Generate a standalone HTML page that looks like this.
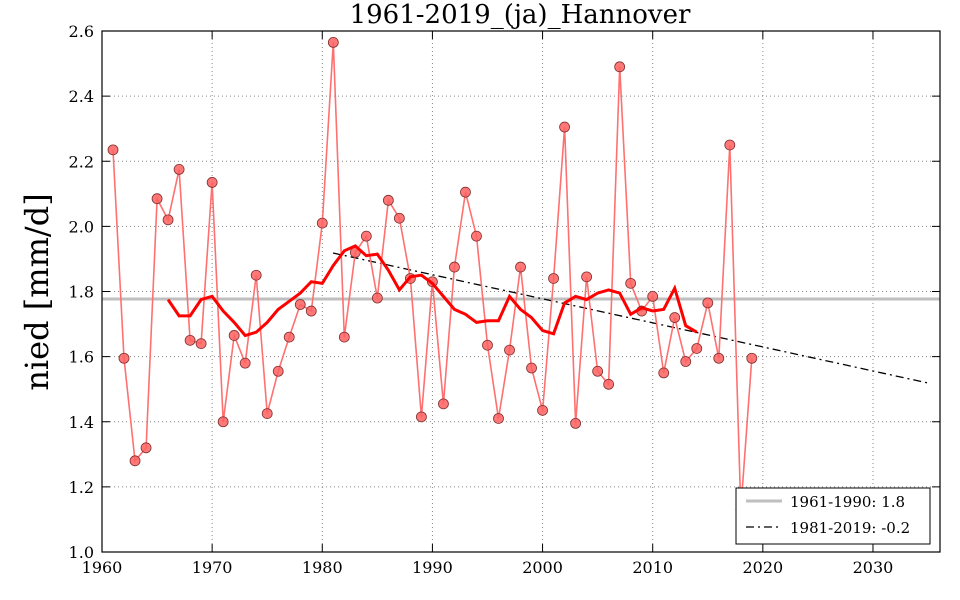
<!DOCTYPE html>
<html><head><meta charset="utf-8"><style>
html,body{margin:0;padding:0;background:#fff;}
svg{display:block;font-family:"DejaVu Serif","Liberation Serif",serif;}
</style></head><body>
<svg id="s" width="960" height="600" xmlns="http://www.w3.org/2000/svg">
<rect width="960" height="600" fill="#fff"/>
<g id="grid"></g>
<line x1="102" y1="299" x2="940" y2="299" stroke="#bfbfbf" stroke-width="3"/>
<line x1="333" y1="253" x2="928" y2="383" stroke="#000" stroke-width="1.3" stroke-dasharray="8,4,2,4"/>
<polyline id="raw" fill="none" stroke="#ff7070" stroke-width="1.6"/>
<g id="pts"></g>
<polyline id="ma" fill="none" stroke="#ff0000" stroke-width="3"/>
<rect x="102" y="31" width="838" height="521" fill="none" stroke="#000" stroke-width="1.2"/>
<g id="ticks"></g>
<text x="520" y="23" font-size="26" text-anchor="middle">1961-2019_(ja)_Hannover</text>
<text transform="translate(48,292) rotate(-90)" font-size="32" text-anchor="middle">nied [mm/d]</text>
<rect x="736" y="488" width="194" height="56" fill="#fff" stroke="#000" stroke-width="1"/>
<line x1="746" y1="501" x2="782" y2="501" stroke="#bfbfbf" stroke-width="3"/>
<text x="790" y="507" font-size="15">1961-1990: 1.8</text>
<line x1="746" y1="527" x2="782" y2="527" stroke="#000" stroke-width="1.3" stroke-dasharray="8,4,2,4"/>
<text x="790" y="533" font-size="15">1981-2019: -0.2</text>
</svg>
<script>
var X=function(y){return 102+(y-1960)*11.014;};
var Y=function(v){return 552-(v-1.0)/0.2*65.125;};
var ns="http://www.w3.org/2000/svg";
function el(t,a,p){var e=document.createElementNS(ns,t);for(var k in a)e.setAttribute(k,a[k]);p.appendChild(e);return e;}
var raw=[2.235,1.595,1.28,1.32,2.085,2.02,2.175,1.65,1.64,2.135,1.40,1.665,1.58,1.85,1.425,1.555,1.66,1.76,1.74,2.01,2.565,1.66,1.92,1.97,1.78,2.08,2.025,1.84,1.415,1.83,1.455,1.875,2.105,1.97,1.635,1.41,1.62,1.875,1.565,1.435,1.84,2.305,1.395,1.845,1.555,1.515,2.49,1.825,1.74,1.785,1.55,1.72,1.585,1.625,1.765,1.595,2.25,1.13,1.595];
var ma=[1.775,1.725,1.725,1.775,1.785,1.74,1.705,1.665,1.675,1.705,1.745,1.77,1.795,1.83,1.825,1.88,1.925,1.94,1.91,1.915,1.865,1.805,1.845,1.85,1.825,1.785,1.745,1.73,1.705,1.71,1.71,1.785,1.745,1.72,1.68,1.67,1.765,1.785,1.775,1.795,1.805,1.795,1.73,1.75,1.74,1.745,1.81,1.695,1.675];
var g=document.getElementById("grid"),t=document.getElementById("ticks"),p=document.getElementById("pts");
for(var yr=1960;yr<=2030;yr+=10){var x=X(yr);
 if(yr>1960)el("line",{x1:x,y1:31,x2:x,y2:552,stroke:"#888","stroke-dasharray":"1,3","stroke-width":1},g);
 el("line",{x1:x,y1:552,x2:x,y2:544,stroke:"#000"},t);el("line",{x1:x,y1:31,x2:x,y2:39,stroke:"#000"},t);
 var tx=el("text",{x:x,y:573,"font-size":16,"text-anchor":"middle"},t);tx.textContent=yr;}
for(var i=0;i<=8;i++){var v=1+i*0.2,y=Y(v);
 if(i>0&&i<8)el("line",{x1:102,y1:y,x2:940,y2:y,stroke:"#888","stroke-dasharray":"1,3","stroke-width":1},g);
 el("line",{x1:102,y1:y,x2:110,y2:y,stroke:"#000"},t);el("line",{x1:940,y1:y,x2:932,y2:y,stroke:"#000"},t);
 var tx=el("text",{x:94,y:y+6,"font-size":16,"text-anchor":"end"},t);tx.textContent=v.toFixed(1);}
var s="";raw.forEach(function(v,i){var x=X(1961+i),y=Y(v);s+=x.toFixed(1)+","+y.toFixed(1)+" ";
 el("circle",{cx:x,cy:y,r:5,fill:"#ff6060","fill-opacity":0.85,stroke:"#803030","stroke-width":0.8},p);});
document.getElementById("raw").setAttribute("points",s);
s="";ma.forEach(function(v,i){s+=X(1966+i).toFixed(1)+","+Y(v).toFixed(1)+" ";});
document.getElementById("ma").setAttribute("points",s);
</script>
</body></html>
